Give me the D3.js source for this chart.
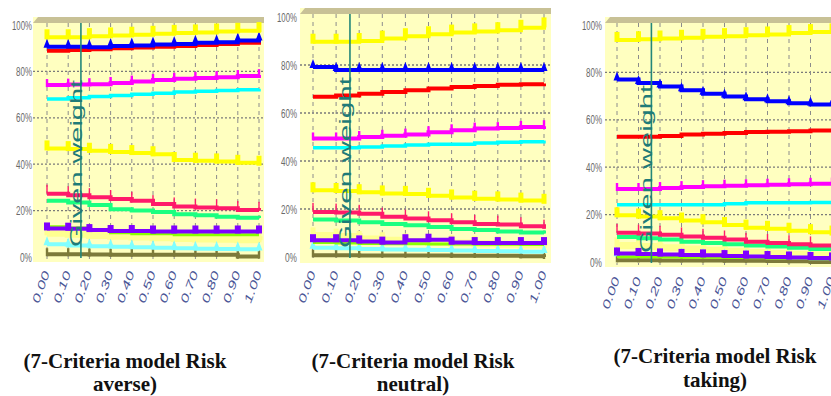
<!DOCTYPE html>
<html>
<head>
<meta charset="utf-8">
<script src="https://cdn.jsdelivr.net/npm/d3@7/dist/d3.min.js"></script>
<style>
  html, body { margin: 0; padding: 0; background: #ffffff; }
  svg { display: block; }
</style>
</head>
<body>
<svg id="chart" width="831" height="396"></svg>
<script>
// ---------------- DATA ----------------
const xValues = [0, 0.1, 0.2, 0.3, 0.4, 0.5, 0.6, 0.7, 0.8, 0.9, 1.0];
const xTickLabels = ["0.00", "0.10", "0.20", "0.30", "0.40", "0.50", "0.60", "0.70", "0.80", "0.90", "1.00"];
const yTickValues = [0, 20, 40, 60, 80, 100];
const yTickLabels = ["0%", "20%", "40%", "60%", "80%", "100%"];
const givenWeight = 0.16;
const givenWeightLabel = "Given weight";

// drawing order (bottom layer first)
const seriesKeys = ["paleYellow", "olive", "lightCyan", "chartreuse", "purple", "green", "crimson",
                    "yellowMid", "cyan", "magenta", "red", "blue", "yellowTop"];

const riskAverse = {
  yellowTop:  [94.7, 94.7, 95.2, 95.5, 95.8, 96.2, 96.6, 96.8, 97.2, 97.5, 97.8],
  blue:       [90.6, 90.6, 90.4, 90.9, 91.2, 91.6, 91.8, 92.3, 92.6, 93.3, 93.8],
  red:        [88.9, 89.2, 89.5, 90.0, 90.3, 90.6, 91.0, 91.4, 91.8, 92.3, 92.8],
  magenta:    [74.1, 74.3, 74.5, 75.0, 75.6, 76.3, 76.8, 77.2, 77.5, 78.0, 78.4],
  cyan:       [68.1, 68.6, 69.2, 69.6, 70.1, 70.6, 71.1, 71.4, 71.8, 72.1, 72.5],
  yellowMid:  [46.8, 46.5, 45.8, 45.3, 44.8, 44.3, 41.8, 41.5, 41.2, 40.6, 40.2],
  crimson:    [27.3, 26.6, 25.8, 25.0, 24.2, 22.8, 21.8, 21.3, 21.0, 20.3, 19.9],
  green:      [24.2, 23.5, 22.4, 20.6, 20.0, 19.4, 18.4, 18.0, 17.3, 16.9, 16.8],
  purple:     [12.3, 12.2, 11.6, 11.2, 11.2, 11.0, 11.0, 11.0, 11.0, 11.0, 11.0],
  chartreuse: [13.0, 12.5, 11.5, 10.5, 10.0, 10.0, 9.6, 9.6, 9.6, 9.6, 9.6],
  paleYellow: [10.2, 9.8, 9.3, 8.9, 8.6, 8.3, 8.0, 7.8, 7.6, 7.4, 7.2],
  lightCyan:  [5.5, 5.0, 4.6, 4.4, 4.2, 4.0, 3.8, 3.6, 3.4, 3.3, 3.2],
  olive:      [1.2, 1.2, 1.1, 1.0, 1.0, 1.0, 1.0, 1.0, 1.0, 0.2, 0.2]
};

const riskNeutral = {
  yellowTop:  [89.7, 89.7, 90.0, 91.0, 92.0, 92.8, 93.5, 94.0, 94.5, 95.5, 96.5],
  blue:       [79.2, 77.9, 77.9, 77.9, 77.9, 77.9, 77.9, 77.9, 77.9, 77.9, 77.9],
  red:        [66.8, 67.3, 68.0, 68.8, 69.5, 70.2, 70.8, 71.3, 71.8, 72.0, 72.3],
  magenta:    [49.4, 49.4, 50.0, 50.5, 51.0, 52.0, 52.8, 53.5, 53.7, 54.2, 54.5],
  cyan:       [45.5, 45.5, 45.8, 46.2, 46.7, 47.0, 47.0, 47.5, 47.8, 48.0, 48.5],
  yellowMid:  [27.8, 27.5, 27.0, 26.5, 26.3, 25.5, 24.8, 24.3, 24.0, 23.5, 23.0],
  crimson:    [18.8, 18.5, 18.0, 16.8, 16.0, 15.3, 14.5, 13.8, 13.5, 12.8, 11.8],
  green:      [15.6, 15.2, 14.5, 13.8, 13.2, 12.5, 11.7, 11.2, 10.6, 10.2, 9.8],
  purple:     [7.0, 7.0, 6.5, 6.0, 7.0, 7.2, 6.0, 5.8, 5.8, 5.8, 5.8],
  chartreuse: [6.0, 5.8, 5.6, 5.5, 5.5, 5.4, 5.4, 5.3, 5.3, 5.2, 5.2],
  paleYellow: [9.0, 8.5, 7.5, 7.0, 6.5, 6.0, 5.8, 5.5, 5.3, 5.0, 4.5],
  lightCyan:  [3.9, 3.6, 3.3, 3.1, 3.0, 2.9, 2.7, 2.5, 2.4, 2.2, 2.1],
  olive:      [0.7, 0.7, 0.6, 0.6, 0.6, 0.6, 0.5, 0.5, 0.5, 0.3, 0.0]
};

const riskTaking = {
  yellowTop:  [93.7, 94.0, 94.3, 94.6, 95.0, 95.3, 95.7, 96.0, 96.6, 97.0, 97.3],
  blue:       [77.0, 75.5, 74.0, 72.5, 71.0, 69.8, 68.7, 67.8, 67.0, 66.5, 66.3],
  red:        [52.8, 52.8, 53.2, 53.8, 54.1, 54.4, 54.8, 55.0, 55.2, 55.5, 55.9],
  magenta:    [30.8, 30.8, 31.2, 31.6, 32.0, 32.2, 32.4, 32.6, 32.8, 33.0, 33.1],
  cyan:       [24.2, 24.2, 24.2, 24.2, 24.2, 24.6, 25.0, 25.0, 25.0, 25.1, 25.1],
  yellowMid:  [19.7, 19.2, 18.5, 17.5, 16.8, 15.6, 14.5, 14.0, 13.2, 12.6, 12.0],
  crimson:    [12.3, 12.0, 11.5, 10.8, 10.2, 9.5, 8.5, 8.0, 7.5, 7.0, 6.6],
  green:      [10.6, 10.0, 9.5, 8.5, 8.0, 7.5, 7.0, 6.5, 6.0, 5.5, 5.2],
  purple:     [3.6, 3.4, 3.2, 3.0, 2.8, 2.5, 2.3, 2.1, 1.9, 1.7, 1.5],
  chartreuse: [2.2, 2.2, 2.1, 2.0, 2.0, 1.9, 1.8, 1.7, 1.6, 1.5, 1.4],
  paleYellow: [7.0, 6.5, 6.0, 5.5, 5.0, 4.5, 4.0, 3.6, 3.3, 3.0, 2.8],
  lightCyan:  [2.8, 2.8, 2.7, 2.6, 2.5, 2.4, 2.2, 2.0, 1.8, 1.6, 1.5],
  olive:      [0.7, 0.7, 0.6, 0.6, 0.6, 0.5, 0.5, 0.4, 0.3, 0.0, 0.0]
};

const captionLines = [
  ["(7-Criteria model Risk", "averse)"],
  ["(7-Criteria model Risk", "neutral)"],
  ["(7-Criteria model Risk", "taking)"]
];

// ---------------- STYLES / LAYOUT ----------------
const seriesStyle = {
  yellowTop:  { color: "#ffff00", width: 4,   marker: "bar" },
  blue:       { color: "#0000ff", width: 4,   marker: "tri" },
  red:        { color: "#ff0000", width: 4,   marker: null },
  magenta:    { color: "#ff00ff", width: 4,   marker: "tick" },
  cyan:       { color: "#00ffff", width: 3.5, marker: null },
  yellowMid:  { color: "#ffff00", width: 4,   marker: "bar" },
  crimson:    { color: "#ff1a6a", width: 4,   marker: "thin" },
  green:      { color: "#1aff80", width: 4,   marker: null },
  purple:     { color: "#8000ff", width: 4,   marker: "sq" },
  chartreuse: { color: "#88ff00", width: 3,   marker: null },
  paleYellow: { color: "#ffff90", width: 7,   marker: "barPale" },
  lightCyan:  { color: "#80ffff", width: 4,   marker: "tri" },
  olive:      { color: "#7d7a3a", width: 4,   marker: "tick" }
};

const panels = [
  { data: riskAverse,  x0: 47,  x1: 259, y0: 257, y100: 25, bgX0: 33,  bgX1: 264, bandTop: 17, bandBottom: 23, bgBottom: 262,
    labelRight: 32,  xLabelTop: 273, gwStart: 247, gwLen: 167, capX: 125, capY1: 368, capY2: 391 },
  { data: riskNeutral, x0: 313, x1: 544, y0: 257, y100: 17, bgX0: 300, bgX1: 551, bandTop: 8,  bandBottom: 14, bgBottom: 263,
    labelRight: 297, xLabelTop: 273, gwStart: 248, gwLen: 171, capX: 413, capY1: 368, capY2: 391 },
  { data: riskTaking,  x0: 617, x1: 832, y0: 262, y100: 25, bgX0: 605, bgX1: 845, bandTop: 17, bandBottom: 23, bgBottom: 267,
    labelRight: 602, xLabelTop: 279, gwStart: 253, gwLen: 168, capX: 715, capY1: 363, capY2: 387 }
];

const svg = d3.select("#chart");

panels.forEach((p, pi) => {
  const g = svg.append("g");
  const x = d3.scaleLinear().domain([0, 1]).range([p.x0, p.x1]);
  const y = d3.scaleLinear().domain([0, 100]).range([p.y0, p.y100]);

  // background
  g.append("rect")
    .attr("x", p.bgX0).attr("y", p.bandTop)
    .attr("width", p.bgX1 - p.bgX0).attr("height", p.bgBottom - p.bandTop)
    .attr("fill", "#ffffc0");
  // top band (3D wall edge)
  g.append("path")
    .attr("d", `M${p.bgX0},${p.bandBottom} L${p.bgX0 + 5},${p.bandTop} L${p.bgX1},${p.bandTop} L${p.bgX1},${p.bandBottom} Z`)
    .attr("fill", "#c8c196");

  // horizontal dotted grid
  g.selectAll(".hgrid").data(yTickValues.filter(v => v > 0 && v < 100)).enter()
    .append("line")
    .attr("x1", p.bgX0).attr("x2", p.bgX1)
    .attr("y1", d => y(d)).attr("y2", d => y(d))
    .attr("stroke", "#7a7a7a").attr("stroke-width", 1.3)
    .attr("stroke-dasharray", "2,2");

  // vertical dashed grid
  g.selectAll(".vgrid").data(xValues).enter()
    .append("line")
    .attr("x1", d => x(d)).attr("x2", d => x(d))
    .attr("y1", p.bandBottom).attr("y2", p.y0 + 3)
    .attr("stroke", "#8c8c8c").attr("stroke-width", 1)
    .attr("stroke-dasharray", "4,4");

  // series
  const line = d3.line().x(d => x(d[0])).y(d => y(d[1])).curve(d3.curveStepAfter);
  seriesKeys.forEach(key => {
    const st = seriesStyle[key];
    const pts = xValues.map((xv, i) => [xv, p.data[key][i]]);
    g.append("path")
      .attr("d", line(pts))
      .attr("fill", "none")
      .attr("stroke", st.color)
      .attr("stroke-width", st.width);
    if (!st.marker) return;
    const mg = g.append("g");
    pts.forEach(d => {
      const cx = x(d[0]), cy = y(d[1]);
      if (st.marker === "bar" || st.marker === "barPale") {
        mg.append("rect").attr("x", cx - 2.5).attr("y", cy - 8).attr("width", 5).attr("height", 10)
          .attr("fill", st.color);
      } else if (st.marker === "tri") {
        mg.append("path").attr("d", `M${cx},${cy - 8} L${cx + 3.5},${cy + 1} L${cx - 3.5},${cy + 1} Z`)
          .attr("fill", st.color);
      } else if (st.marker === "sq") {
        mg.append("rect").attr("x", cx - 3).attr("y", cy - 6).attr("width", 6).attr("height", 8)
          .attr("fill", st.color);
      } else if (st.marker === "tick") {
        mg.append("rect").attr("x", cx - 1.2).attr("y", cy - 6).attr("width", 2.4).attr("height", 8)
          .attr("fill", st.color);
      } else if (st.marker === "thin") {
        mg.append("rect").attr("x", cx - 0.7).attr("y", cy - 9).attr("width", 1.4).attr("height", 9)
          .attr("fill", st.color);
      }
    });
  });

  // given weight line + label
  const gx = x(givenWeight);
  g.append("line")
    .attr("x1", gx).attr("x2", gx)
    .attr("y1", p.bandBottom).attr("y2", p.y0 + 1)
    .attr("stroke", "#23877a").attr("stroke-width", 1.6);
  g.append("text")
    .attr("transform", `translate(${gx + 1},${p.gwStart}) rotate(-90)`)
    .attr("font-family", "'Liberation Sans', Arial, sans-serif")
    .attr("font-size", 17)
    .attr("fill", "#1f7b78")
    .attr("textLength", p.gwLen)
    .attr("lengthAdjust", "spacingAndGlyphs")
    .text(givenWeightLabel);

  // y axis labels
  const yAxis = d3.axisLeft(y).tickValues(yTickValues)
    .tickFormat((d, i) => yTickLabels[i]).tickSize(0).tickPadding(0);
  const ya = g.append("g").attr("transform", `translate(${p.labelRight},0)`).call(yAxis);
  ya.select(".domain").remove();
  ya.selectAll("text")
    .attr("font-family", "'Liberation Sans', Arial, sans-serif")
    .attr("font-size", 13)
    .attr("fill", "#6a6a6a")
    .attr("textLength", d => d === 100 ? 20 : (d === 0 ? 12 : 16))
    .attr("lengthAdjust", "spacingAndGlyphs");

  // x axis labels (rotated)
  const xAxis = d3.axisBottom(x).tickValues(xValues)
    .tickFormat((d, i) => xTickLabels[i]).tickSize(0);
  const xa = g.append("g").attr("transform", `translate(0,${p.xLabelTop})`).call(xAxis);
  xa.select(".domain").remove();
  xa.selectAll("text")
    .attr("x", 0).attr("y", 0).attr("dy", 0)
    .attr("transform", "translate(2.5,0) rotate(-70)")
    .style("text-anchor", "end")
    .attr("font-family", "'Liberation Sans', Arial, sans-serif")
    .attr("font-style", "italic")
    .attr("font-size", 11)
    .attr("fill", "#4a5596")
    .attr("textLength", 33)
    .attr("lengthAdjust", "spacingAndGlyphs");

  // caption
  const cap = g.append("text")
    .attr("font-family", "'Liberation Serif', 'Times New Roman', serif")
    .attr("font-weight", "bold")
    .attr("font-size", 21)
    .attr("fill", "#111")
    .attr("text-anchor", "middle");
  cap.append("tspan").attr("x", p.capX).attr("y", p.capY1).text(captionLines[pi][0]);
  cap.append("tspan").attr("x", p.capX).attr("y", p.capY2).text(captionLines[pi][1]);
});
</script>
</body>
</html>
